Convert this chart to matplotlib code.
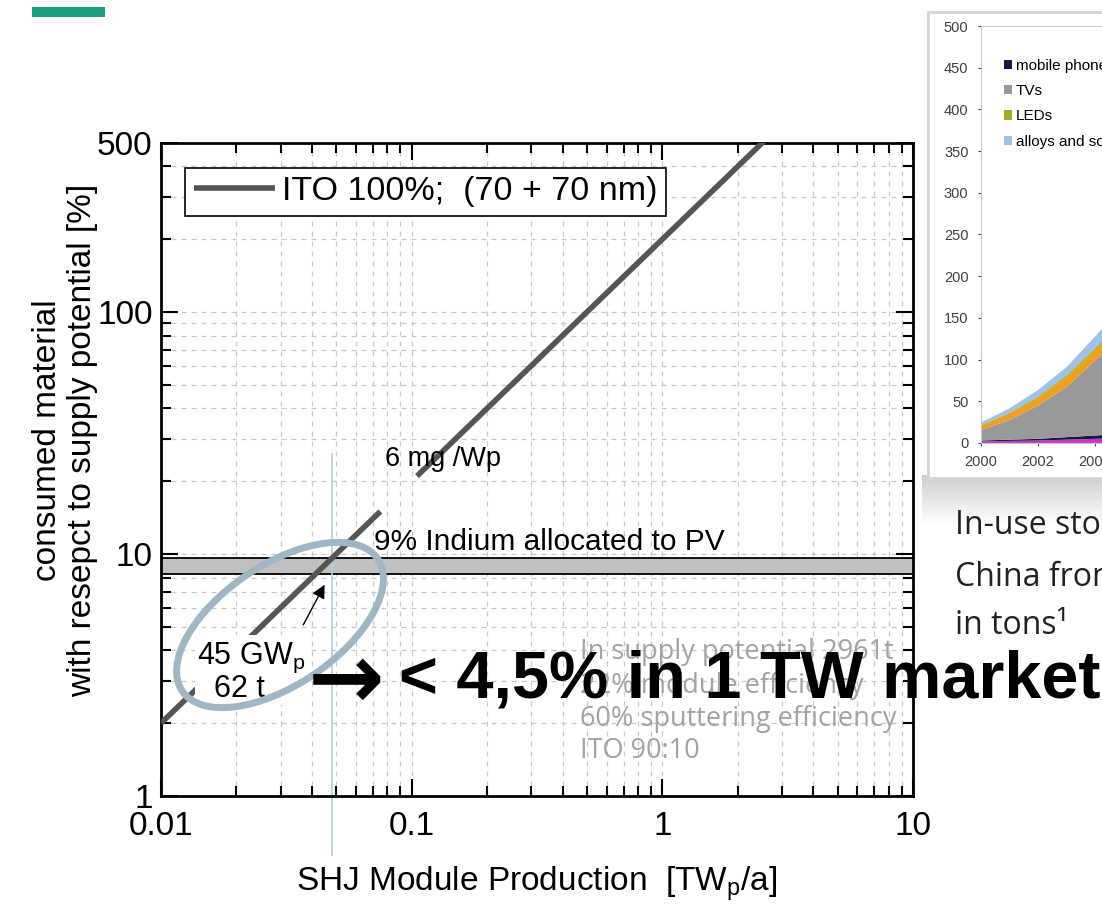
import numpy as np
import matplotlib
matplotlib.use('Agg')
import matplotlib.pyplot as plt
from matplotlib.patches import Ellipse, Rectangle
from matplotlib.ticker import FixedLocator, LogLocator, NullFormatter

plt.rcParams['font.family'] = ['Liberation Sans', 'DejaVu Sans']
plt.rcParams['mathtext.fontset'] = 'custom'
plt.rcParams['mathtext.rm'] = 'Liberation Sans'

# ITO consumption line, 6 mg/Wp against 2961 t supply (gap where the label sits)
ito_tw = [0.01, 0.075, np.nan, 0.105, 10]
ito_pct = [2.0, 15.0, np.nan, 21.0, 2000.0]

# share of indium allocated to PV
band_low, band_high = 8.3, 9.6
marker_tw = 0.048

x_major = [0.01, 0.1, 1, 10]
x_major_labels = ['0.01', '0.1', '1', '10']
y_major = [1, 10, 100, 500]
y_major_labels = ['1', '10', '100', '500']

notes = ['In supply potential 2961t', '22% module efficiency',
         '60% sputtering efficiency', 'ITO 90:10']
notes_y = [3.95, 2.84, 2.08, 1.53]

# in-use stock of indium in China, tons
years = [2000, 2001, 2002, 2003, 2004, 2005]
other_a = [2, 2.5, 3, 4, 5, 6]
phones = [1, 1.5, 2, 3, 4, 5]
tvs = [12.5, 23.5, 40, 60, 90, 120]
other_b = [5, 8, 9, 12, 12, 14]
leds = [1, 1, 1.5, 2, 2.5, 3]
alloys = [3, 5, 8, 10, 14, 18]

W, H = 1102, 905


def fx(px):
    return px / W


def fy(py):
    return 1 - py / H


def fit_width(fig, txt, target_px):
    fig.canvas.draw()
    w = txt.get_window_extent().width
    txt.set_fontsize(txt.get_fontsize() * target_px / w)


fig = plt.figure(figsize=(W / 100, H / 100), dpi=100)

# teal header mark
fig.add_artist(Rectangle((fx(32), fy(17)), fx(73), 10 / H, transform=fig.transFigure,
                         color='#1f9e80', lw=0))

ax = fig.add_axes([fx(161), fy(796), fx(913 - 161), (796 - 143) / H])
ax.set_xscale('log')
ax.set_yscale('log')
ax.set_xlim(0.01, 10)
ax.set_ylim(1, 500)

ax.xaxis.set_major_locator(FixedLocator(x_major))
ax.set_xticklabels(x_major_labels)
ax.yaxis.set_major_locator(FixedLocator(y_major))
ax.set_yticklabels(y_major_labels)
ax.xaxis.set_minor_locator(LogLocator(base=10, subs=np.arange(2, 10)))
ax.yaxis.set_minor_locator(LogLocator(base=10, subs=np.arange(2, 10)))
ax.xaxis.set_minor_formatter(NullFormatter())
ax.yaxis.set_minor_formatter(NullFormatter())
ax.tick_params(which='both', direction='in', top=True, right=True, labelsize=24, width=1.5)
ax.tick_params(which='major', length=12)
ax.tick_params(which='minor', length=7)
ax.tick_params(axis='x', pad=11)
ax.tick_params(axis='y', pad=6)
for s in ax.spines.values():
    s.set_linewidth(2)

ax.grid(which='both', linestyle=(0, (4, 4)), color='#c8c8c8', lw=0.9)
ax.set_axisbelow(True)

ax.axhspan(band_low, band_high, facecolor='#c0c0c0', edgecolor='none', zorder=1.5)
ax.axhline(band_low, color='black', lw=1.3, zorder=1.6)
ax.axhline(band_high, color='black', lw=1.3, zorder=1.6)

ax.plot(ito_tw, ito_pct, color='#555555', lw=4, solid_capstyle='butt', zorder=3,
        label='ITO 100%;  (70 + 70 nm)')

ax.plot([marker_tw, marker_tw], [0.57, 26], color='#a8d4dc', lw=1.2, clip_on=False, zorder=2.5)

leg = ax.legend(loc='upper left', bbox_to_anchor=(0.032, 0.962), fancybox=False,
                edgecolor='black', framealpha=1, fontsize=24.5, handlelength=2.4,
                borderpad=0.25, borderaxespad=0, handletextpad=0.2)
leg.get_frame().set_linewidth(1.2)

ax.text(0.078, 24.8, '6 mg /Wp', fontsize=19.5, va='center', zorder=4)
ax.text(0.071, 9.8, '9% Indium allocated to PV', fontsize=21.5, va='bottom', zorder=4)
ax.text(0.0139, 3.25, '45 GW$_\\mathregular{p}$\n  62 t', fontsize=22, va='center',
        linespacing=0.95, zorder=4,
        bbox=dict(facecolor='white', edgecolor='none', pad=1))

ax.annotate('', xy=(0.0455, 7.65), xytext=(0.0365, 4.98),
            arrowprops=dict(arrowstyle='-|>', color='black', lw=1, mutation_scale=20),
            zorder=5)

for line, yv in zip(notes, notes_y):
    ax.text(0.469, yv, line, fontsize=19.5, family='Open Sans', color='#a3a3a3',
            va='center', zorder=4)

ax.add_patch(Ellipse((2.80, 2.80), 2.36, 1.2, angle=34, transform=fig.dpi_scale_trans,
                     fill=False, edgecolor='#9fb6c4', lw=5, clip_on=False, zorder=5))

ax.set_xlabel('SHJ Module Production  [TW$_\\mathregular{p}$/a]', fontsize=24, labelpad=16)
fig.text(fx(65), fy(440), 'consumed material\nwith resepct to supply potential [%]',
         rotation=90, ha='center', va='center', multialignment='center', fontsize=24)

fig.text(fx(308), fy(682), '\u2192', family='DejaVu Sans', fontweight='bold',
         fontsize=66, va='center', zorder=10)
headline = fig.text(fx(399), fy(680), '< 4,5% in 1 TW market', fontsize=48,
                    fontweight='bold', va='center', zorder=10)

# stock chart on the right, cropped by the slide edge
shade = fig.add_axes([fx(922), fy(525), fx(190), 50 / H], zorder=0)
shade.imshow(np.linspace(0.8, 1.0, 50)[:, None], cmap='gray', vmin=0, vmax=1,
             aspect='auto', extent=[0, 1, 0, 1])
shade.axis('off')
fig.add_artist(Rectangle((fx(928), fy(478)), fx(200), (478 - 12) / H,
                         transform=fig.transFigure, facecolor='white',
                         edgecolor='#d5d5d5', lw=2, zorder=0.5))

ax2 = fig.add_axes([fx(981), fy(443), fx(456), (443 - 26) / H], zorder=1)
stack = ax2.stackplot(years, other_a, phones, tvs, other_b, leds, alloys,
                      colors=['#cc33cc', '#141a3c', '#999999', '#f0a020', '#a6ac1e', '#9dc3e6'])
ax2.set_xlim(2000, 2016)
ax2.set_ylim(0, 500)
ax2.set_xticks(range(2000, 2017, 2))
ax2.set_yticks(range(0, 501, 50))
ax2.tick_params(labelsize=10.5, colors='#404040', length=2, pad=7)
for s in ax2.spines.values():
    s.set_color('#c8c8c8')
ax2.legend([stack[1], stack[2], stack[4], stack[5]],
           ['mobile phones', 'TVs', 'LEDs', 'alloys and solders'],
           loc='upper left', bbox_to_anchor=(0.02, 0.955), frameon=False, fontsize=11,
           handlelength=0.55, handleheight=0.55, handletextpad=0.25, labelspacing=0.75)

for txt, py in zip(['In-use stocks of indium in', 'China from 2000 to 2015,', 'in tons\u00b9'],
                   [525, 577, 625]):
    fig.text(fx(955), fy(py), txt, fontsize=23, family='Open Sans', color='#222222',
             va='center')

fit_width(fig, headline, 1100 - 399)

fig.savefig('out.png', dpi=100)
